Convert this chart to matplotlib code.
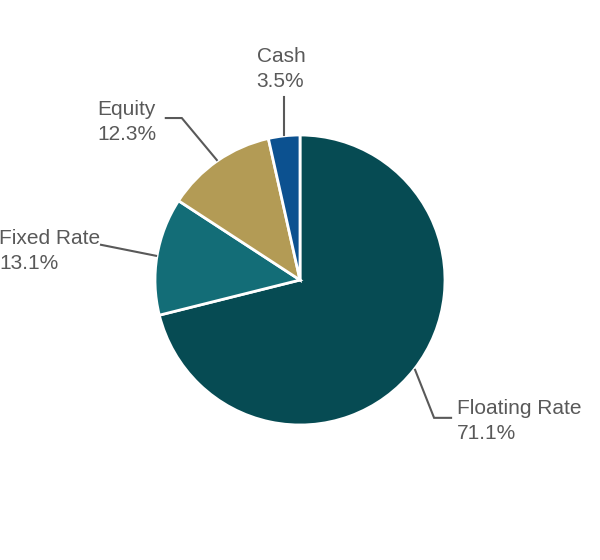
import numpy as np
import matplotlib

matplotlib.use("Agg")
import matplotlib.pyplot as plt

labels = ["Floating Rate", "Fixed Rate", "Equity", "Cash"]
shares = [71.1, 13.1, 12.3, 3.5]
colors = ["#064b53", "#136d77", "#b39b55", "#0c5190"]

TEXT_COLOR = "#595959"
W, H = 600, 560
CX, CY, R = 300, H - 280, 145

# leader line layout per label (px, y up): elbow offset from slice edge, tail length,
# text offset from tail end, horizontal alignment
layout = {
    "Floating Rate": ((19, -48), 17, (6, -3), "left"),
    "Fixed Rate": ((-55, 11), 0, (-1, -6), "right"),
    "Equity": ((-35, 42), -16, (-9, -4), "right"),
    "Cash": ((0, 38), 0, (-3, 28), "center"),
}

plt.rcParams["font.family"] = ["Liberation Sans", "DejaVu Sans"]

fig = plt.figure(figsize=(6, 5.6), dpi=100)
ax = fig.add_axes([0, 0, 1, 1])

wedges, _ = ax.pie(
    shares,
    colors=colors,
    startangle=90,
    counterclock=False,
    center=(CX, CY),
    radius=R,
    wedgeprops={"edgecolor": "white", "linewidth": 2},
    frame=True,
)
ax.set_xlim(0, W)
ax.set_ylim(0, H)
ax.set_aspect("equal")
ax.axis("off")

for w, name, val in zip(wedges, labels, shares):
    mid = np.deg2rad((w.theta1 + w.theta2) / 2)
    (ex, ey), tail, (dx, dy), ha = layout[name]
    x0, y0 = CX + (R + 1) * np.cos(mid), CY + (R + 1) * np.sin(mid)
    x1, y1 = x0 + ex, y0 + ey
    x2 = x1 + tail
    ax.plot([x0, x1, x2], [y0, y1, y1], color=TEXT_COLOR, lw=1.5,
            solid_joinstyle="miter")
    ax.text(x2 + dx, y1 + dy, f"{name}\n{val:.1f}%", ha=ha, va="center",
            multialignment="left", fontsize=15, color=TEXT_COLOR,
            linespacing=1.4)

fig.savefig("out.png", dpi=100, facecolor="white")
